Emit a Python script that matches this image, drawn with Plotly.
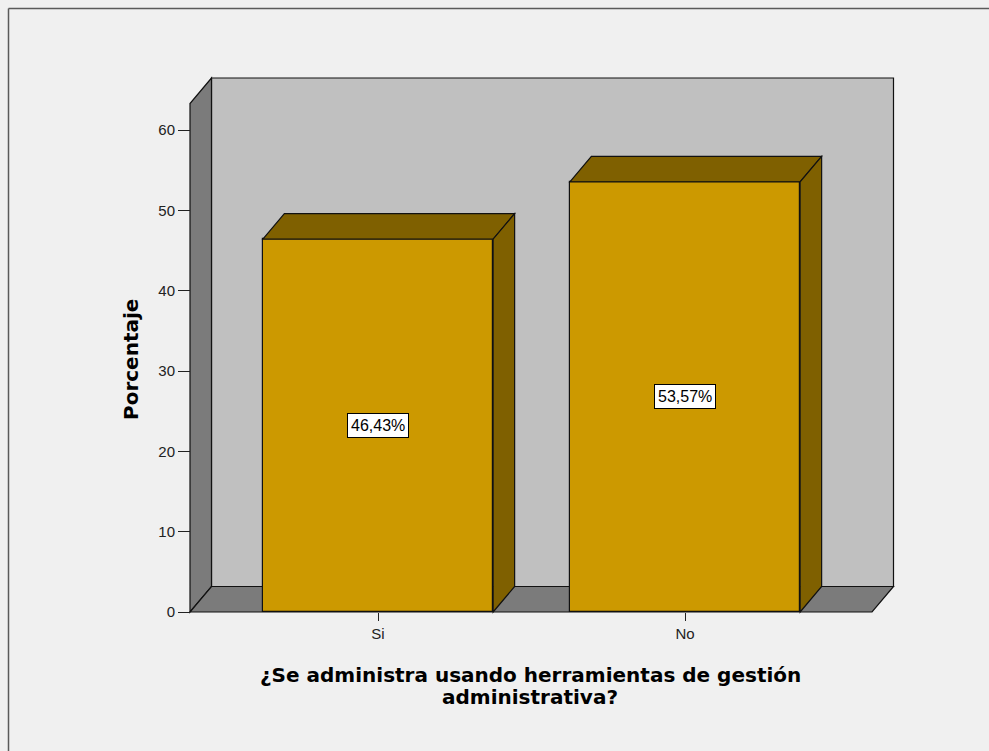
import plotly.graph_objects as go

# Data
categories = ["Si", "No"]
percentages = [46.43, 53.57]
value_labels = ["46,43%", "53,57%"]
y_ticks = [0, 10, 20, 30, 40, 50, 60]

# Canvas and pixel layout of the plotting area
W, H = 989, 751
PX_L, PX_R = 186, 897          # plot area left/right (px)
PX_T, PX_B = 74, 615           # plot area top/bottom (px)
X0_PX, X_UNIT = 378, 307.0     # pixel of category 0 and px per category step
Y0_PX, Y_UNIT = 612, 8.03      # pixel of value 0 and px per percent

x_range = [(PX_L - X0_PX) / X_UNIT, (PX_R - X0_PX) / X_UNIT]
y_range = [-(PX_B - Y0_PX) / Y_UNIT, (Y0_PX - PX_T) / Y_UNIT]


def dx(px):
    return px / X_UNIT


def dy(px):
    return px / Y_UNIT


def paper_x(px):
    return (px - PX_L) / (PX_R - PX_L)


def paper_y(px):
    return (PX_B - px) / (PX_B - PX_T)


# 3D depth offset of walls and bars
DEPTH_X, DEPTH_Y = dx(21.5), dy(25.5)
BAR_W = 0.75

# Frame of the walls in data units
front_left = dx(190 - X0_PX)
front_right = dx(872 - X0_PX)
wall_top = dy(Y0_PX - 78)

FRONT = "#cc9900"
DARK = "#7f6000"
WALL_BACK = "#c0c0c0"
WALL_SIDE = "#7b7b7b"
EDGE = dict(color="#111111", width=1.2)
TICK_FONT = dict(family="Liberation Sans, Arial", size=15, color="#222222")
TITLE_FONT = dict(family="DejaVu Sans", size=20, color="#000000", weight="bold")

xs = list(range(len(categories)))


def poly(pts):
    return "M " + " L ".join(f"{x},{y}" for x, y in pts) + " Z"


shapes = []
# back wall
shapes.append(dict(type="path", xref="x", yref="y", layer="below",
                   path=poly([(front_left + DEPTH_X, DEPTH_Y), (front_left + DEPTH_X, wall_top),
                              (front_right + DEPTH_X, wall_top), (front_right + DEPTH_X, DEPTH_Y)]),
                   fillcolor=WALL_BACK, line=EDGE))
# left wall
shapes.append(dict(type="path", xref="x", yref="y", layer="below",
                   path=poly([(front_left, 0), (front_left + DEPTH_X, DEPTH_Y),
                              (front_left + DEPTH_X, wall_top), (front_left, wall_top - DEPTH_Y)]),
                   fillcolor=WALL_SIDE, line=EDGE))
# floor
shapes.append(dict(type="path", xref="x", yref="y", layer="below",
                   path=poly([(front_left, 0), (front_left + DEPTH_X, DEPTH_Y),
                              (front_right + DEPTH_X, DEPTH_Y), (front_right, 0)]),
                   fillcolor=WALL_SIDE, line=EDGE))

# top and right faces of each bar, derived from its value
for x, v in zip(xs, percentages):
    x0, x1 = x - BAR_W / 2, x + BAR_W / 2
    shapes.append(dict(type="path", xref="x", yref="y", layer="above",
                       path=poly([(x0, v), (x0 + DEPTH_X, v + DEPTH_Y),
                                  (x1 + DEPTH_X, v + DEPTH_Y), (x1, v)]),
                       fillcolor=DARK, line=EDGE))
    shapes.append(dict(type="path", xref="x", yref="y", layer="above",
                       path=poly([(x1, 0), (x1, v), (x1 + DEPTH_X, v + DEPTH_Y),
                                  (x1 + DEPTH_X, DEPTH_Y)]),
                       fillcolor=DARK, line=EDGE))

# page frame: top and left edges
shapes.append(dict(type="line", xref="paper", yref="paper",
                   x0=paper_x(8.5), x1=paper_x(W), y0=paper_y(8.5), y1=paper_y(8.5),
                   line=dict(color="#5a5a5a", width=1.5)))
shapes.append(dict(type="line", xref="paper", yref="paper",
                   x0=paper_x(8.5), x1=paper_x(8.5), y0=paper_y(8.5), y1=paper_y(H),
                   line=dict(color="#5a5a5a", width=1.5)))

fig = go.Figure()
fig.add_trace(go.Bar(
    x=xs, y=percentages, width=BAR_W,
    marker=dict(color=FRONT, line=dict(color="#111111", width=1.2)),
    hoverinfo="skip", showlegend=False,
))

annotations = []
for x, v, lab in zip(xs, percentages, value_labels):
    annotations.append(dict(x=x, y=v / 2, xref="x", yref="y", text=lab, showarrow=False,
                            font=dict(family="Liberation Sans, Arial", size=16, color="#000000"),
                            bgcolor="#ffffff", bordercolor="#000000", borderwidth=1, borderpad=3))

annotations.append(dict(text="Porcentaje", textangle=-90, showarrow=False,
                        xref="paper", yref="paper", x=paper_x(131), y=paper_y(360),
                        xanchor="center", yanchor="middle", font=TITLE_FONT))
for line_text, cy in [("¿Se administra usando herramientas de gestión", 675),
                      ("administrativa?", 697)]:
    annotations.append(dict(text=line_text, showarrow=False, xref="paper", yref="paper",
                            x=paper_x(530), y=paper_y(cy), xanchor="center", yanchor="middle",
                            font=TITLE_FONT))

fig.update_layout(
    width=W, height=H,
    margin=dict(l=PX_L, r=W - PX_R, t=PX_T, b=H - PX_B, autoexpand=False),
    paper_bgcolor="#f0f0f0", plot_bgcolor="rgba(0,0,0,0)",
    shapes=shapes,
    annotations=annotations,
    bargap=0,
    xaxis=dict(range=x_range, tickmode="array", tickvals=xs, ticktext=categories,
               ticks="outside", ticklen=8, tickcolor="#222222", tickwidth=1,
               showgrid=False, zeroline=False, showline=False, anchor="free",
               position=paper_y(Y0_PX), tickfont=TICK_FONT),
    yaxis=dict(range=y_range, tickmode="array", tickvals=y_ticks,
               ticks="outside", ticklen=12, tickcolor="#222222", tickwidth=1,
               showgrid=False, zeroline=False, showline=False, anchor="free",
               position=paper_x(190), tickfont=TICK_FONT),
    font=dict(family="Liberation Sans, Arial"),
)

fig.write_html("out.html")
